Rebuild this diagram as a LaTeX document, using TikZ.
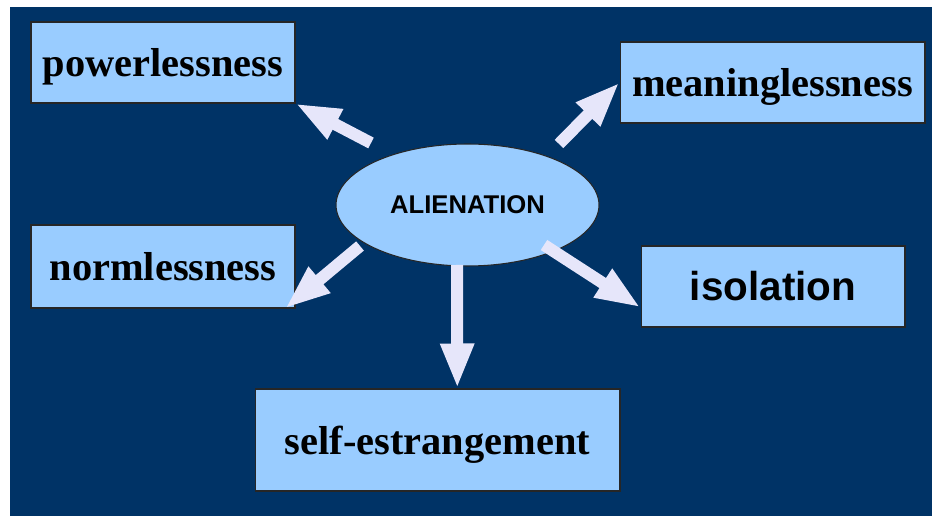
\documentclass[tikz,border=0pt]{standalone}
\usepackage{fontspec}
\setmainfont{Liberation Serif}
\setsansfont{Liberation Sans}
\usetikzlibrary{shapes.geometric,arrows.meta}

\definecolor{navy}{RGB}{0,51,102}
\definecolor{boxblue}{RGB}{153,204,255}
\definecolor{arrowlav}{RGB}{230,230,250}

\begin{document}
\begin{tikzpicture}[x=0.02cm,y=-0.02cm,
    termbox/.style={draw=black!85,line width=0.6pt,fill=boxblue,inner sep=0pt,
      text height=18pt,text depth=2pt,font=\fontsize{23}{26}\selectfont\bfseries},
    fatarrow/.style={draw=arrowlav,line width=0.24cm,
      -{Triangle[width=0.62cm,length=0.9cm]}}]
    \useasboundingbox (0,0) rectangle (932,516);
    \fill[navy] (10,7) rectangle (932,516);
    \node[termbox,minimum width=5.28cm,minimum height=1.62cm] (power) at (163,62.5) {powerlessness};
    \node[termbox,minimum width=6.1cm,minimum height=1.62cm] (meaning) at (772.5,82.5) {meaninglessness};
    \node[termbox,minimum width=5.28cm,minimum height=1.66cm] (norm) at (163,266.5) {normlessness};
    \node[termbox,minimum width=5.28cm,minimum height=1.62cm,font=\fontsize{23}{26}\selectfont\sffamily\bfseries] (iso) at (773,286.5) {isolation};
    \node[termbox,minimum width=7.3cm,minimum height=2.04cm] (self) at (437.5,440) {self-estrangement};
    \node[ellipse,draw=black!85,line width=0.6pt,fill=boxblue,inner sep=0pt,
      minimum width=5.26cm,minimum height=2.44cm,
      font=\fontsize{14.6}{16}\selectfont\sffamily\bfseries] (alien) at (467.5,205) {ALIENATION};
    \coordinate (t1) at (371,143);
    \coordinate (t2) at (559,144);
    \coordinate (t3) at (360,246);
    \coordinate (t4) at (457,265);
    \coordinate (t5) at (544,245);
    \draw[fatarrow] (t1) -- (power.south east);
    \draw[fatarrow] (t2) -- (meaning.west);
    \draw[fatarrow] (t3) -- (norm.-19);
    \draw[fatarrow] (t4) -- (self.69);
    \draw[fatarrow] (t5) -- (iso.189);
\end{tikzpicture}
\end{document}
